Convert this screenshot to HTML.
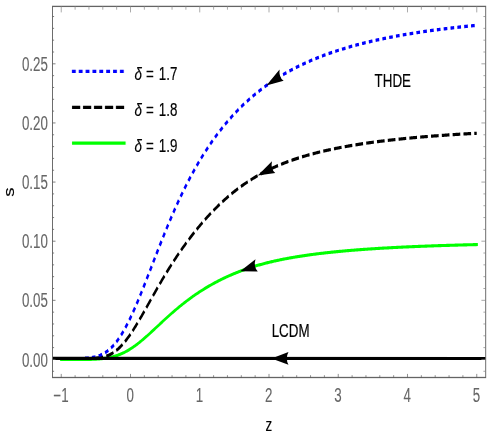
<!DOCTYPE html>
<html>
<head>
<meta charset="utf-8">
<title>s(z) THDE</title>
<style>
html,body{margin:0;padding:0;background:#fff;}
body{width:491px;height:436px;overflow:hidden;font-family:"Liberation Sans",sans-serif;}
svg{display:block;}
text{font-family:"Liberation Sans",sans-serif;}
.t{stroke:#666;stroke-width:0.8;fill:none;}
.tt{stroke:#8c8c8c;stroke-width:0.85;}
.tr{stroke:#808080;}
.tl2{stroke:#5c5c5c;stroke-width:0.9;}
.tb{stroke:#555;stroke-width:0.75;}
.tl{font-size:18.5px;fill:#666;stroke:#666;stroke-width:0.1;}
.lab{font-size:18.5px;fill:#000;stroke:#000;stroke-width:0.2;}
</style>
</head>
<body>
<svg width="491" height="436" viewBox="0 0 680.055 436" preserveAspectRatio="none">
<!-- curves -->
<g fill="none" stroke-linejoin="round">
<path d="M84.83,359.56 L85.99,359.56 L87.14,359.56 L88.29,359.56 L89.45,359.56 L90.60,359.56 L91.75,359.56 L92.91,359.56 L94.06,359.56 L95.21,359.56 L96.37,359.56 L97.52,359.56 L98.67,359.56 L99.83,359.56 L100.98,359.56 L102.13,359.56 L103.29,359.56 L104.44,359.55 L105.59,359.55 L106.75,359.55 L107.90,359.54 L109.05,359.54 L110.21,359.53 L111.36,359.53 L112.51,359.52 L113.67,359.52 L114.82,359.51 L115.97,359.50 L117.13,359.49 L118.28,359.48 L119.43,359.46 L120.59,359.45 L121.74,359.43 L122.89,359.41 L124.05,359.39 L125.20,359.36 L126.35,359.34 L127.51,359.31 L128.66,359.28 L129.81,359.24 L130.96,359.20 L132.12,359.16 L133.27,359.11 L134.42,359.06 L135.58,359.00 L136.73,358.94 L137.88,358.87 L139.04,358.80 L140.19,358.72 L141.34,358.63 L142.50,358.54 L143.65,358.44 L144.80,358.33 L145.96,358.21 L147.11,358.08 L148.26,357.95 L149.42,357.80 L150.57,357.64 L151.72,357.48 L152.88,357.30 L154.03,357.11 L155.18,356.91 L156.34,356.70 L157.49,356.48 L158.64,356.24 L159.80,355.99 L160.95,355.73 L162.10,355.45 L163.26,355.16 L164.41,354.85 L165.56,354.53 L166.72,354.19 L167.87,353.84 L169.02,353.48 L170.18,353.09 L171.33,352.70 L172.48,352.28 L173.64,351.86 L174.79,351.41 L175.94,350.95 L177.10,350.48 L178.25,349.99 L179.40,349.48 L180.56,348.96 L181.71,348.42 L182.86,347.87 L184.02,347.31 L185.17,346.73 L186.32,346.14 L187.48,345.53 L188.63,344.92 L189.78,344.29 L190.94,343.64 L192.09,342.99 L193.24,342.33 L194.40,341.65 L195.55,340.97 L196.70,340.27 L197.85,339.57 L199.01,338.86 L200.16,338.14 L201.31,337.42 L202.47,336.68 L203.62,335.94 L204.77,335.20 L205.93,334.45 L207.08,333.69 L208.23,332.93 L209.39,332.17 L210.54,331.40 L211.69,330.63 L212.85,329.86 L214.00,329.09 L215.15,328.31 L216.31,327.54 L217.46,326.76 L218.61,325.98 L219.77,325.21 L220.92,324.43 L222.07,323.65 L223.23,322.88 L224.38,322.11 L225.53,321.33 L226.69,320.57 L227.84,319.80 L228.99,319.04 L230.15,318.27 L231.30,317.52 L232.45,316.76 L233.61,316.01 L234.76,315.27 L235.91,314.52 L237.07,313.79 L238.22,313.05 L239.37,312.33 L240.53,311.60 L241.68,310.88 L242.83,310.17 L243.99,309.46 L245.14,308.76 L246.29,308.06 L247.45,307.37 L248.60,306.68 L249.75,306.00 L250.91,305.32 L252.06,304.65 L253.21,303.99 L254.37,303.33 L255.52,302.68 L256.67,302.03 L257.83,301.39 L258.98,300.76 L260.13,300.13 L261.29,299.51 L262.44,298.89 L263.59,298.28 L264.74,297.68 L265.90,297.08 L267.05,296.49 L268.20,295.90 L269.36,295.32 L270.51,294.74 L271.66,294.17 L272.82,293.61 L273.97,293.05 L275.12,292.50 L276.28,291.95 L277.43,291.41 L278.58,290.87 L279.74,290.34 L280.89,289.82 L282.04,289.30 L283.20,288.78 L284.35,288.27 L285.50,287.77 L286.66,287.27 L287.81,286.78 L288.96,286.29 L290.12,285.80 L291.27,285.33 L292.42,284.85 L293.58,284.38 L294.73,283.92 L295.88,283.46 L297.04,283.01 L298.19,282.56 L299.34,282.11 L300.50,281.68 L301.65,281.24 L302.80,280.81 L303.96,280.38 L305.11,279.96 L306.26,279.55 L307.42,279.13 L308.57,278.73 L309.72,278.32 L310.88,277.93 L312.03,277.53 L313.18,277.14 L314.34,276.76 L315.49,276.38 L316.64,276.00 L317.80,275.63 L318.95,275.26 L320.10,274.90 L321.26,274.54 L322.41,274.18 L323.56,273.83 L324.72,273.48 L325.87,273.14 L327.02,272.80 L328.18,272.47 L329.33,272.14 L330.48,271.81 L331.63,271.49 L332.79,271.17 L333.94,270.86 L335.09,270.55 L336.25,270.24 L337.40,269.94 L338.55,269.64 L339.71,269.34 L340.86,269.05 L342.01,268.76 L343.17,268.48 L344.32,268.20 L345.47,267.92 L346.63,267.65 L347.78,267.38 L348.93,267.11 L350.09,266.85 L351.24,266.59 L352.39,266.33 L353.55,266.08 L354.70,265.83 L355.85,265.58 L357.01,265.34 L358.16,265.10 L359.31,264.86 L360.47,264.63 L361.62,264.40 L362.77,264.17 L363.93,263.95 L365.08,263.72 L366.23,263.50 L367.39,263.29 L368.54,263.07 L369.69,262.86 L370.85,262.65 L372.00,262.45 L373.15,262.25 L374.31,262.04 L375.46,261.85 L376.61,261.65 L377.77,261.46 L378.92,261.27 L380.07,261.08 L381.23,260.89 L382.38,260.71 L383.53,260.53 L384.69,260.35 L385.84,260.17 L386.99,260.00 L388.15,259.82 L389.30,259.65 L390.45,259.48 L391.61,259.32 L392.76,259.15 L393.91,258.99 L395.07,258.83 L396.22,258.67 L397.37,258.51 L398.52,258.36 L399.68,258.20 L400.83,258.05 L401.98,257.90 L403.14,257.75 L404.29,257.61 L405.44,257.46 L406.60,257.32 L407.75,257.18 L408.90,257.04 L410.06,256.90 L411.21,256.76 L412.36,256.62 L413.52,256.49 L414.67,256.36 L415.82,256.23 L416.98,256.10 L418.13,255.97 L419.28,255.84 L420.44,255.72 L421.59,255.59 L422.74,255.47 L423.90,255.35 L425.05,255.23 L426.20,255.11 L427.36,255.00 L428.51,254.88 L429.66,254.77 L430.82,254.65 L431.97,254.54 L433.12,254.43 L434.28,254.32 L435.43,254.21 L436.58,254.10 L437.74,254.00 L438.89,253.89 L440.04,253.79 L441.20,253.68 L442.35,253.58 L443.50,253.48 L444.66,253.38 L445.81,253.28 L446.96,253.18 L448.12,253.09 L449.27,252.99 L450.42,252.90 L451.58,252.80 L452.73,252.71 L453.88,252.62 L455.04,252.53 L456.19,252.44 L457.34,252.35 L458.50,252.26 L459.65,252.17 L460.80,252.08 L461.96,252.00 L463.11,251.91 L464.26,251.83 L465.41,251.75 L466.57,251.66 L467.72,251.58 L468.87,251.50 L470.03,251.42 L471.18,251.34 L472.33,251.27 L473.49,251.19 L474.64,251.11 L475.79,251.04 L476.95,250.96 L478.10,250.89 L479.25,250.81 L480.41,250.74 L481.56,250.67 L482.71,250.59 L483.87,250.52 L485.02,250.45 L486.17,250.38 L487.33,250.31 L488.48,250.25 L489.63,250.18 L490.79,250.11 L491.94,250.05 L493.09,249.98 L494.25,249.91 L495.40,249.85 L496.55,249.79 L497.71,249.72 L498.86,249.66 L500.01,249.60 L501.17,249.54 L502.32,249.48 L503.47,249.42 L504.63,249.36 L505.78,249.30 L506.93,249.24 L508.09,249.18 L509.24,249.12 L510.39,249.06 L511.55,249.01 L512.70,248.95 L513.85,248.90 L515.01,248.84 L516.16,248.79 L517.31,248.73 L518.47,248.68 L519.62,248.63 L520.77,248.57 L521.93,248.52 L523.08,248.47 L524.23,248.42 L525.39,248.37 L526.54,248.32 L527.69,248.27 L528.85,248.22 L530.00,248.17 L531.15,248.12 L532.30,248.07 L533.46,248.02 L534.61,247.98 L535.76,247.93 L536.92,247.88 L538.07,247.84 L539.22,247.79 L540.38,247.75 L541.53,247.70 L542.68,247.66 L543.84,247.61 L544.99,247.57 L546.14,247.53 L547.30,247.48 L548.45,247.44 L549.60,247.40 L550.76,247.36 L551.91,247.31 L553.06,247.27 L554.22,247.23 L555.37,247.19 L556.52,247.15 L557.68,247.11 L558.83,247.07 L559.98,247.03 L561.14,246.99 L562.29,246.96 L563.44,246.92 L564.60,246.88 L565.75,246.84 L566.90,246.81 L568.06,246.77 L569.21,246.73 L570.36,246.70 L571.52,246.66 L572.67,246.62 L573.82,246.59 L574.98,246.55 L576.13,246.52 L577.28,246.48 L578.44,246.45 L579.59,246.42 L580.74,246.38 L581.90,246.35 L583.05,246.31 L584.20,246.28 L585.36,246.25 L586.51,246.22 L587.66,246.18 L588.82,246.15 L589.97,246.12 L591.12,246.09 L592.28,246.06 L593.43,246.03 L594.58,246.00 L595.74,245.97 L596.89,245.94 L598.04,245.91 L599.19,245.88 L600.35,245.85 L601.50,245.82 L602.65,245.79 L603.81,245.76 L604.96,245.73 L606.11,245.70 L607.27,245.67 L608.42,245.65 L609.57,245.62 L610.73,245.59 L611.88,245.56 L613.03,245.54 L614.19,245.51 L615.34,245.48 L616.49,245.46 L617.65,245.43 L618.80,245.40 L619.95,245.38 L621.11,245.35 L622.26,245.33 L623.41,245.30 L624.57,245.28 L625.72,245.25 L626.87,245.23 L628.03,245.20 L629.18,245.18 L630.33,245.15 L631.49,245.13 L632.64,245.11 L633.79,245.08 L634.95,245.06 L636.10,245.04 L637.25,245.01 L638.41,244.99 L639.56,244.97 L640.71,244.94 L641.87,244.92 L643.02,244.90 L644.17,244.88 L645.33,244.86 L646.48,244.83 L647.63,244.81 L648.79,244.79 L649.94,244.77 L651.09,244.75 L652.25,244.73 L653.40,244.71 L654.55,244.69 L655.71,244.66 L656.86,244.64 L658.01,244.62 L659.17,244.60 L660.32,244.58" stroke="#00ff00" stroke-width="3.1" stroke-linecap="square"/>
<path d="M128.19,358.35 L129.25,358.32 L130.32,358.28 L131.39,358.23 L132.45,358.18 L133.52,358.12 L134.59,358.04 L135.65,357.96 L136.72,357.87 L137.78,357.77 L138.85,357.65 L139.92,357.52 L140.98,357.37 L142.05,357.21 L143.12,357.03 L144.18,356.83 L145.25,356.61 L146.32,356.37 L147.38,356.11 L148.45,355.82 L149.51,355.51 L150.58,355.18 L151.65,354.83 L152.71,354.44 L153.78,354.03 L154.85,353.60 L155.91,353.13 L156.98,352.64 L158.05,352.12 L159.11,351.56 L160.18,350.98 L161.25,350.37 L162.31,349.73 L163.38,349.06 L164.44,348.35 L165.51,347.62 L166.58,346.86 L167.64,346.07 L168.71,345.25 L169.78,344.40 L170.84,343.52 L171.91,342.61 L172.98,341.68 L174.04,340.71 L175.11,339.72 L176.17,338.71 L177.24,337.67 L178.31,336.61 L179.37,335.52 L180.44,334.41 L181.51,333.28 L182.57,332.13 L183.64,330.95 L184.71,329.76 L185.77,328.55 L186.84,327.32 L187.91,326.08 L188.97,324.82 L190.04,323.55 L191.10,322.26 L192.17,320.96 L193.24,319.65 L194.30,318.33 L195.37,317.00 L196.44,315.67 L197.50,314.32 L198.57,312.97 L199.64,311.61 L200.70,310.24 L201.77,308.88 L202.83,307.50 L203.90,306.13 L204.97,304.75 L206.03,303.38 L207.10,302.00 L208.17,300.62 L209.23,299.25 L210.30,297.87 L211.37,296.50 L212.43,295.13 L213.50,293.76 L214.57,292.40 L215.63,291.04 L216.70,289.68 L217.76,288.33 L218.83,286.99 L219.90,285.65 L220.96,284.32 L222.03,282.99 L223.10,281.67 L224.16,280.36 L225.23,279.05 L226.30,277.75 L227.36,276.46 L228.43,275.18 L229.49,273.91 L230.56,272.64 L231.63,271.38 L232.69,270.13 L233.76,268.89 L234.83,267.65 L235.89,266.43 L236.96,265.21 L238.03,264.00 L239.09,262.80 L240.16,261.61 L241.22,260.43 L242.29,259.26 L243.36,258.09 L244.42,256.93 L245.49,255.78 L246.56,254.64 L247.62,253.51 L248.69,252.39 L249.76,251.27 L250.82,250.17 L251.89,249.07 L252.96,247.98 L254.02,246.90 L255.09,245.82 L256.15,244.76 L257.22,243.70 L258.29,242.65 L259.35,241.61 L260.42,240.57 L261.49,239.55 L262.55,238.53 L263.62,237.51 L264.69,236.51 L265.75,235.51 L266.82,234.53 L267.88,233.54 L268.95,232.57 L270.02,231.60 L271.08,230.64 L272.15,229.69 L273.22,228.75 L274.28,227.81 L275.35,226.88 L276.42,225.96 L277.48,225.04 L278.55,224.13 L279.62,223.23 L280.68,222.34 L281.75,221.45 L282.81,220.57 L283.88,219.70 L284.95,218.83 L286.01,217.97 L287.08,217.12 L288.15,216.27 L289.21,215.44 L290.28,214.61 L291.35,213.78 L292.41,212.96 L293.48,212.15 L294.54,211.35 L295.61,210.55 L296.68,209.76 L297.74,208.98 L298.81,208.21 L299.88,207.44 L300.94,206.68 L302.01,205.92 L303.08,205.17 L304.14,204.43 L305.21,203.70 L306.28,202.97 L307.34,202.25 L308.41,201.53 L309.47,200.82 L310.54,200.12 L311.61,199.43 L312.67,198.74 L313.74,198.06 L314.81,197.39 L315.87,196.72 L316.94,196.06 L318.01,195.40 L319.07,194.75 L320.14,194.11 L321.20,193.48 L322.27,192.85 L323.34,192.23 L324.40,191.61 L325.47,191.00 L326.54,190.40 L327.60,189.80 L328.67,189.21 L329.74,188.62 L330.80,188.05 L331.87,187.47 L332.94,186.91 L334.00,186.35 L335.07,185.79 L336.13,185.24 L337.20,184.70 L338.27,184.16 L339.33,183.63 L340.40,183.11 L341.47,182.59 L342.53,182.07 L343.60,181.56 L344.67,181.06 L345.73,180.56 L346.80,180.07 L347.86,179.59 L348.93,179.10 L350.00,178.63 L351.06,178.16 L352.13,177.69 L353.20,177.23 L354.26,176.78 L355.33,176.33 L356.40,175.88 L357.46,175.44 L358.53,175.01 L359.59,174.58 L360.66,174.15 L361.73,173.73 L362.79,173.31 L363.86,172.90 L364.93,172.49 L365.99,172.09 L367.06,171.69 L368.13,171.30 L369.19,170.91 L370.26,170.52 L371.33,170.14 L372.39,169.77 L373.46,169.39 L374.52,169.03 L375.59,168.66 L376.66,168.30 L377.72,167.94 L378.79,167.59 L379.86,167.24 L380.92,166.90 L381.99,166.56 L383.06,166.22 L384.12,165.89 L385.19,165.56 L386.25,165.23 L387.32,164.91 L388.39,164.59 L389.45,164.27 L390.52,163.96 L391.59,163.65 L392.65,163.35 L393.72,163.04 L394.79,162.74 L395.85,162.45 L396.92,162.16 L397.99,161.87 L399.05,161.58 L400.12,161.29 L401.18,161.01 L402.25,160.74 L403.32,160.46 L404.38,160.19 L405.45,159.92 L406.52,159.65 L407.58,159.39 L408.65,159.13 L409.72,158.87 L410.78,158.62 L411.85,158.36 L412.91,158.11 L413.98,157.86 L415.05,157.62 L416.11,157.38 L417.18,157.14 L418.25,156.90 L419.31,156.66 L420.38,156.43 L421.45,156.20 L422.51,155.97 L423.58,155.74 L424.65,155.52 L425.71,155.30 L426.78,155.08 L427.84,154.86 L428.91,154.65 L429.98,154.43 L431.04,154.22 L432.11,154.01 L433.18,153.81 L434.24,153.60 L435.31,153.40 L436.38,153.20 L437.44,153.00 L438.51,152.80 L439.57,152.60 L440.64,152.41 L441.71,152.22 L442.77,152.03 L443.84,151.84 L444.91,151.65 L445.97,151.47 L447.04,151.29 L448.11,151.11 L449.17,150.93 L450.24,150.75 L451.30,150.57 L452.37,150.40 L453.44,150.22 L454.50,150.05 L455.57,149.88 L456.64,149.71 L457.70,149.55 L458.77,149.38 L459.84,149.22 L460.90,149.06 L461.97,148.90 L463.04,148.74 L464.10,148.58 L465.17,148.42 L466.23,148.27 L467.30,148.11 L468.37,147.96 L469.43,147.81 L470.50,147.66 L471.57,147.51 L472.63,147.36 L473.70,147.22 L474.77,147.07 L475.83,146.93 L476.90,146.78 L477.96,146.64 L479.03,146.50 L480.10,146.37 L481.16,146.23 L482.23,146.09 L483.30,145.96 L484.36,145.82 L485.43,145.69 L486.50,145.56 L487.56,145.43 L488.63,145.30 L489.70,145.17 L490.76,145.04 L491.83,144.91 L492.89,144.79 L493.96,144.66 L495.03,144.54 L496.09,144.42 L497.16,144.30 L498.23,144.18 L499.29,144.06 L500.36,143.94 L501.43,143.82 L502.49,143.71 L503.56,143.59 L504.62,143.47 L505.69,143.36 L506.76,143.25 L507.82,143.14 L508.89,143.03 L509.96,142.92 L511.02,142.81 L512.09,142.70 L513.16,142.59 L514.22,142.48 L515.29,142.38 L516.36,142.27 L517.42,142.17 L518.49,142.06 L519.55,141.96 L520.62,141.86 L521.69,141.76 L522.75,141.66 L523.82,141.56 L524.89,141.46 L525.95,141.36 L527.02,141.27 L528.09,141.17 L529.15,141.07 L530.22,140.98 L531.28,140.88 L532.35,140.79 L533.42,140.70 L534.48,140.61 L535.55,140.51 L536.62,140.42 L537.68,140.33 L538.75,140.24 L539.82,140.16 L540.88,140.07 L541.95,139.98 L543.02,139.89 L544.08,139.81 L545.15,139.72 L546.21,139.64 L547.28,139.55 L548.35,139.47 L549.41,139.39 L550.48,139.30 L551.55,139.22 L552.61,139.14 L553.68,139.06 L554.75,138.98 L555.81,138.90 L556.88,138.82 L557.94,138.74 L559.01,138.66 L560.08,138.59 L561.14,138.51 L562.21,138.43 L563.28,138.36 L564.34,138.28 L565.41,138.21 L566.48,138.14 L567.54,138.06 L568.61,137.99 L569.67,137.92 L570.74,137.84 L571.81,137.77 L572.87,137.70 L573.94,137.63 L575.01,137.56 L576.07,137.49 L577.14,137.42 L578.21,137.36 L579.27,137.29 L580.34,137.22 L581.41,137.15 L582.47,137.09 L583.54,137.02 L584.60,136.95 L585.67,136.89 L586.74,136.82 L587.80,136.76 L588.87,136.70 L589.94,136.63 L591.00,136.57 L592.07,136.51 L593.14,136.44 L594.20,136.38 L595.27,136.32 L596.33,136.26 L597.40,136.20 L598.47,136.14 L599.53,136.08 L600.60,136.02 L601.67,135.96 L602.73,135.90 L603.80,135.84 L604.87,135.79 L605.93,135.73 L607.00,135.67 L608.07,135.62 L609.13,135.56 L610.20,135.50 L611.26,135.45 L612.33,135.39 L613.40,135.34 L614.46,135.28 L615.53,135.23 L616.60,135.17 L617.66,135.12 L618.73,135.07 L619.80,135.02 L620.86,134.96 L621.93,134.91 L622.99,134.86 L624.06,134.81 L625.13,134.76 L626.19,134.71 L627.26,134.66 L628.33,134.61 L629.39,134.56 L630.46,134.51 L631.53,134.46 L632.59,134.41 L633.66,134.36 L634.73,134.31 L635.79,134.26 L636.86,134.22 L637.92,134.17 L638.99,134.12 L640.06,134.07 L641.12,134.03 L642.19,133.98 L643.26,133.94 L644.32,133.89 L645.39,133.84 L646.46,133.80 L647.52,133.75 L648.59,133.71 L649.65,133.67 L650.72,133.62 L651.79,133.58 L652.85,133.53 L653.92,133.49 L654.99,133.45 L656.05,133.41 L657.12,133.36 L658.19,133.32 L659.25,133.28 L660.32,133.24" stroke="#000" stroke-width="3.2" stroke-dasharray="10.6 4.4" stroke-dashoffset="10.82"/>
<path d="M114.76,358.35 L115.85,358.32 L116.95,358.28 L118.04,358.24 L119.13,358.19 L120.23,358.14 L121.32,358.07 L122.41,358.00 L123.51,357.92 L124.60,357.83 L125.69,357.73 L126.79,357.61 L127.88,357.48 L128.97,357.34 L130.07,357.18 L131.16,357.01 L132.25,356.82 L133.35,356.61 L134.44,356.38 L135.53,356.14 L136.63,355.87 L137.72,355.57 L138.81,355.26 L139.91,354.91 L141.00,354.54 L142.09,354.15 L143.18,353.73 L144.28,353.27 L145.37,352.79 L146.46,352.27 L147.56,351.73 L148.65,351.15 L149.74,350.53 L150.84,349.88 L151.93,349.20 L153.02,348.48 L154.12,347.72 L155.21,346.93 L156.30,346.10 L157.40,345.23 L158.49,344.32 L159.58,343.37 L160.68,342.39 L161.77,341.36 L162.86,340.30 L163.96,339.20 L165.05,338.05 L166.14,336.88 L167.24,335.66 L168.33,334.40 L169.42,333.11 L170.52,331.78 L171.61,330.41 L172.70,329.01 L173.80,327.57 L174.89,326.10 L175.98,324.59 L177.08,323.05 L178.17,321.48 L179.26,319.87 L180.36,318.24 L181.45,316.58 L182.54,314.88 L183.64,313.16 L184.73,311.42 L185.82,309.65 L186.92,307.85 L188.01,306.04 L189.10,304.20 L190.20,302.34 L191.29,300.46 L192.38,298.56 L193.48,296.64 L194.57,294.71 L195.66,292.76 L196.76,290.80 L197.85,288.83 L198.94,286.85 L200.04,284.85 L201.13,282.85 L202.22,280.84 L203.32,278.82 L204.41,276.79 L205.50,274.76 L206.60,272.73 L207.69,270.69 L208.78,268.66 L209.88,266.62 L210.97,264.58 L212.06,262.54 L213.16,260.50 L214.25,258.47 L215.34,256.43 L216.44,254.41 L217.53,252.38 L218.62,250.37 L219.72,248.36 L220.81,246.35 L221.90,244.35 L223.00,242.37 L224.09,240.38 L225.18,238.41 L226.28,236.45 L227.37,234.50 L228.46,232.56 L229.56,230.63 L230.65,228.71 L231.74,226.80 L232.84,224.90 L233.93,223.02 L235.02,221.15 L236.12,219.29 L237.21,217.45 L238.30,215.62 L239.40,213.80 L240.49,212.00 L241.58,210.21 L242.68,208.43 L243.77,206.67 L244.86,204.92 L245.96,203.19 L247.05,201.48 L248.14,199.77 L249.24,198.08 L250.33,196.41 L251.42,194.75 L252.52,193.11 L253.61,191.48 L254.70,189.87 L255.80,188.27 L256.89,186.68 L257.98,185.11 L259.08,183.56 L260.17,182.02 L261.26,180.49 L262.36,178.98 L263.45,177.49 L264.54,176.01 L265.64,174.54 L266.73,173.09 L267.82,171.65 L268.92,170.22 L270.01,168.81 L271.10,167.42 L272.20,166.03 L273.29,164.67 L274.38,163.31 L275.47,161.97 L276.57,160.64 L277.66,159.33 L278.75,158.03 L279.85,156.74 L280.94,155.46 L282.03,154.20 L283.13,152.95 L284.22,151.71 L285.31,150.49 L286.41,149.28 L287.50,148.08 L288.59,146.89 L289.69,145.71 L290.78,144.55 L291.87,143.40 L292.97,142.26 L294.06,141.13 L295.15,140.01 L296.25,138.91 L297.34,137.81 L298.43,136.73 L299.53,135.66 L300.62,134.59 L301.71,133.54 L302.81,132.50 L303.90,131.47 L304.99,130.45 L306.09,129.44 L307.18,128.45 L308.27,127.46 L309.37,126.48 L310.46,125.51 L311.55,124.55 L312.65,123.60 L313.74,122.66 L314.83,121.73 L315.93,120.81 L317.02,119.90 L318.11,118.99 L319.21,118.10 L320.30,117.22 L321.39,116.34 L322.49,115.47 L323.58,114.62 L324.67,113.77 L325.77,112.92 L326.86,112.09 L327.95,111.27 L329.05,110.45 L330.14,109.64 L331.23,108.84 L332.33,108.05 L333.42,107.26 L334.51,106.49 L335.61,105.72 L336.70,104.96 L337.79,104.20 L338.89,103.46 L339.98,102.72 L341.07,101.98 L342.17,101.26 L343.26,100.54 L344.35,99.83 L345.45,99.13 L346.54,98.43 L347.63,97.74 L348.73,97.06 L349.82,96.38 L350.91,95.71 L352.01,95.05 L353.10,94.39 L354.19,93.74 L355.29,93.10 L356.38,92.46 L357.47,91.83 L358.57,91.20 L359.66,90.58 L360.75,89.97 L361.85,89.36 L362.94,88.75 L364.03,88.16 L365.13,87.57 L366.22,86.98 L367.31,86.40 L368.41,85.83 L369.50,85.26 L370.59,84.70 L371.69,84.14 L372.78,83.59 L373.87,83.04 L374.97,82.50 L376.06,81.96 L377.15,81.43 L378.25,80.90 L379.34,80.38 L380.43,79.86 L381.53,79.35 L382.62,78.84 L383.71,78.34 L384.81,77.84 L385.90,77.35 L386.99,76.86 L388.09,76.37 L389.18,75.89 L390.27,75.42 L391.37,74.95 L392.46,74.48 L393.55,74.02 L394.65,73.56 L395.74,73.11 L396.83,72.66 L397.93,72.21 L399.02,71.77 L400.11,71.33 L401.21,70.90 L402.30,70.47 L403.39,70.04 L404.49,69.62 L405.58,69.20 L406.67,68.79 L407.76,68.38 L408.86,67.97 L409.95,67.56 L411.04,67.17 L412.14,66.77 L413.23,66.38 L414.32,65.99 L415.42,65.60 L416.51,65.22 L417.60,64.84 L418.70,64.46 L419.79,64.09 L420.88,63.72 L421.98,63.36 L423.07,62.99 L424.16,62.63 L425.26,62.28 L426.35,61.92 L427.44,61.57 L428.54,61.23 L429.63,60.88 L430.72,60.54 L431.82,60.20 L432.91,59.87 L434.00,59.54 L435.10,59.21 L436.19,58.88 L437.28,58.56 L438.38,58.23 L439.47,57.92 L440.56,57.60 L441.66,57.29 L442.75,56.98 L443.84,56.67 L444.94,56.36 L446.03,56.06 L447.12,55.76 L448.22,55.46 L449.31,55.17 L450.40,54.88 L451.50,54.59 L452.59,54.30 L453.68,54.01 L454.78,53.73 L455.87,53.45 L456.96,53.17 L458.06,52.89 L459.15,52.62 L460.24,52.35 L461.34,52.08 L462.43,51.81 L463.52,51.55 L464.62,51.28 L465.71,51.02 L466.80,50.76 L467.90,50.51 L468.99,50.25 L470.08,50.00 L471.18,49.75 L472.27,49.50 L473.36,49.26 L474.46,49.01 L475.55,48.77 L476.64,48.53 L477.74,48.29 L478.83,48.05 L479.92,47.82 L481.02,47.59 L482.11,47.36 L483.20,47.13 L484.30,46.90 L485.39,46.67 L486.48,46.45 L487.58,46.23 L488.67,46.01 L489.76,45.79 L490.86,45.57 L491.95,45.36 L493.04,45.14 L494.14,44.93 L495.23,44.72 L496.32,44.51 L497.42,44.30 L498.51,44.10 L499.60,43.89 L500.70,43.69 L501.79,43.49 L502.88,43.29 L503.98,43.09 L505.07,42.90 L506.16,42.70 L507.26,42.51 L508.35,42.32 L509.44,42.13 L510.54,41.94 L511.63,41.75 L512.72,41.56 L513.82,41.38 L514.91,41.20 L516.00,41.01 L517.10,40.83 L518.19,40.65 L519.28,40.48 L520.38,40.30 L521.47,40.12 L522.56,39.95 L523.66,39.78 L524.75,39.61 L525.84,39.44 L526.94,39.27 L528.03,39.10 L529.12,38.93 L530.22,38.77 L531.31,38.60 L532.40,38.44 L533.50,38.28 L534.59,38.12 L535.68,37.96 L536.78,37.80 L537.87,37.64 L538.96,37.48 L540.05,37.33 L541.15,37.18 L542.24,37.02 L543.33,36.87 L544.43,36.72 L545.52,36.57 L546.61,36.42 L547.71,36.27 L548.80,36.13 L549.89,35.98 L550.99,35.84 L552.08,35.69 L553.17,35.55 L554.27,35.41 L555.36,35.27 L556.45,35.13 L557.55,34.99 L558.64,34.85 L559.73,34.72 L560.83,34.58 L561.92,34.45 L563.01,34.31 L564.11,34.18 L565.20,34.05 L566.29,33.92 L567.39,33.79 L568.48,33.66 L569.57,33.53 L570.67,33.40 L571.76,33.28 L572.85,33.15 L573.95,33.02 L575.04,32.90 L576.13,32.78 L577.23,32.65 L578.32,32.53 L579.41,32.41 L580.51,32.29 L581.60,32.17 L582.69,32.05 L583.79,31.94 L584.88,31.82 L585.97,31.70 L587.07,31.59 L588.16,31.47 L589.25,31.36 L590.35,31.25 L591.44,31.13 L592.53,31.02 L593.63,30.91 L594.72,30.80 L595.81,30.69 L596.91,30.58 L598.00,30.47 L599.09,30.37 L600.19,30.26 L601.28,30.15 L602.37,30.05 L603.47,29.94 L604.56,29.84 L605.65,29.74 L606.75,29.63 L607.84,29.53 L608.93,29.43 L610.03,29.33 L611.12,29.23 L612.21,29.13 L613.31,29.03 L614.40,28.93 L615.49,28.84 L616.59,28.74 L617.68,28.64 L618.77,28.55 L619.87,28.45 L620.96,28.36 L622.05,28.26 L623.15,28.17 L624.24,28.08 L625.33,27.99 L626.43,27.89 L627.52,27.80 L628.61,27.71 L629.71,27.62 L630.80,27.53 L631.89,27.44 L632.99,27.36 L634.08,27.27 L635.17,27.18 L636.27,27.09 L637.36,27.01 L638.45,26.92 L639.55,26.84 L640.64,26.75 L641.73,26.67 L642.83,26.58 L643.92,26.50 L645.01,26.42 L646.11,26.34 L647.20,26.26 L648.29,26.17 L649.39,26.09 L650.48,26.01 L651.57,25.93 L652.67,25.85 L653.76,25.78 L654.85,25.70 L655.95,25.62 L657.04,25.54 L658.13,25.47 L659.23,25.39 L660.32,25.31" stroke="#0000ff" stroke-width="3.3" stroke-dasharray="5.1 4.4" stroke-dashoffset="6.48"/>
<line x1="72.71" y1="358.4" x2="672.71" y2="358.45" stroke="#000" stroke-width="3.15"/>
</g>
<!-- arrowheads -->
<g fill="#000" stroke="none">
<path d="M368.98,85.53 L392.88,80.86 Q385.83,77.20 387.21,69.38 Z"/>
<path d="M357.06,175.61 L381.29,173.07 Q374.59,168.81 376.66,161.14 Z"/>
<path d="M332.69,271.20 L357.04,271.53 Q350.89,266.51 353.85,259.14 Z"/>
<path d="M376.04,358.40 L399.54,364.80 Q394.84,358.40 399.54,352.00 Z"/>
</g>
<!-- frame -->
<rect x="72.71" y="6.4" width="600.00" height="371.1" fill="none" stroke="#646464" stroke-width="1.3"/>
<line class="t tb" x1="84.83" y1="377.50" x2="84.83" y2="373.90"/>
<line class="t tt" x1="84.83" y1="6.40" x2="84.83" y2="12.40"/>
<line class="t tb" x1="104.02" y1="377.50" x2="104.02" y2="375.20"/>
<line class="t tt" x1="104.02" y1="6.40" x2="104.02" y2="9.70"/>
<line class="t tb" x1="123.20" y1="377.50" x2="123.20" y2="375.20"/>
<line class="t tt" x1="123.20" y1="6.40" x2="123.20" y2="9.70"/>
<line class="t tb" x1="142.38" y1="377.50" x2="142.38" y2="375.20"/>
<line class="t tt" x1="142.38" y1="6.40" x2="142.38" y2="9.70"/>
<line class="t tb" x1="161.57" y1="377.50" x2="161.57" y2="375.20"/>
<line class="t tt" x1="161.57" y1="6.40" x2="161.57" y2="9.70"/>
<line class="t tb" x1="180.75" y1="377.50" x2="180.75" y2="373.90"/>
<line class="t tt" x1="180.75" y1="6.40" x2="180.75" y2="12.40"/>
<line class="t tb" x1="199.93" y1="377.50" x2="199.93" y2="375.20"/>
<line class="t tt" x1="199.93" y1="6.40" x2="199.93" y2="9.70"/>
<line class="t tb" x1="219.11" y1="377.50" x2="219.11" y2="375.20"/>
<line class="t tt" x1="219.11" y1="6.40" x2="219.11" y2="9.70"/>
<line class="t tb" x1="238.30" y1="377.50" x2="238.30" y2="375.20"/>
<line class="t tt" x1="238.30" y1="6.40" x2="238.30" y2="9.70"/>
<line class="t tb" x1="257.48" y1="377.50" x2="257.48" y2="375.20"/>
<line class="t tt" x1="257.48" y1="6.40" x2="257.48" y2="9.70"/>
<line class="t tb" x1="276.66" y1="377.50" x2="276.66" y2="373.90"/>
<line class="t tt" x1="276.66" y1="6.40" x2="276.66" y2="12.40"/>
<line class="t tb" x1="295.84" y1="377.50" x2="295.84" y2="375.20"/>
<line class="t tt" x1="295.84" y1="6.40" x2="295.84" y2="9.70"/>
<line class="t tb" x1="315.03" y1="377.50" x2="315.03" y2="375.20"/>
<line class="t tt" x1="315.03" y1="6.40" x2="315.03" y2="9.70"/>
<line class="t tb" x1="334.21" y1="377.50" x2="334.21" y2="375.20"/>
<line class="t tt" x1="334.21" y1="6.40" x2="334.21" y2="9.70"/>
<line class="t tb" x1="353.39" y1="377.50" x2="353.39" y2="375.20"/>
<line class="t tt" x1="353.39" y1="6.40" x2="353.39" y2="9.70"/>
<line class="t tb" x1="372.58" y1="377.50" x2="372.58" y2="373.90"/>
<line class="t tt" x1="372.58" y1="6.40" x2="372.58" y2="12.40"/>
<line class="t tb" x1="391.76" y1="377.50" x2="391.76" y2="375.20"/>
<line class="t tt" x1="391.76" y1="6.40" x2="391.76" y2="9.70"/>
<line class="t tb" x1="410.94" y1="377.50" x2="410.94" y2="375.20"/>
<line class="t tt" x1="410.94" y1="6.40" x2="410.94" y2="9.70"/>
<line class="t tb" x1="430.12" y1="377.50" x2="430.12" y2="375.20"/>
<line class="t tt" x1="430.12" y1="6.40" x2="430.12" y2="9.70"/>
<line class="t tb" x1="449.31" y1="377.50" x2="449.31" y2="375.20"/>
<line class="t tt" x1="449.31" y1="6.40" x2="449.31" y2="9.70"/>
<line class="t tb" x1="468.49" y1="377.50" x2="468.49" y2="373.90"/>
<line class="t tt" x1="468.49" y1="6.40" x2="468.49" y2="12.40"/>
<line class="t tb" x1="487.67" y1="377.50" x2="487.67" y2="375.20"/>
<line class="t tt" x1="487.67" y1="6.40" x2="487.67" y2="9.70"/>
<line class="t tb" x1="506.86" y1="377.50" x2="506.86" y2="375.20"/>
<line class="t tt" x1="506.86" y1="6.40" x2="506.86" y2="9.70"/>
<line class="t tb" x1="526.04" y1="377.50" x2="526.04" y2="375.20"/>
<line class="t tt" x1="526.04" y1="6.40" x2="526.04" y2="9.70"/>
<line class="t tb" x1="545.22" y1="377.50" x2="545.22" y2="375.20"/>
<line class="t tt" x1="545.22" y1="6.40" x2="545.22" y2="9.70"/>
<line class="t tb" x1="564.40" y1="377.50" x2="564.40" y2="373.90"/>
<line class="t tt" x1="564.40" y1="6.40" x2="564.40" y2="12.40"/>
<line class="t tb" x1="583.59" y1="377.50" x2="583.59" y2="375.20"/>
<line class="t tt" x1="583.59" y1="6.40" x2="583.59" y2="9.70"/>
<line class="t tb" x1="602.77" y1="377.50" x2="602.77" y2="375.20"/>
<line class="t tt" x1="602.77" y1="6.40" x2="602.77" y2="9.70"/>
<line class="t tb" x1="621.95" y1="377.50" x2="621.95" y2="375.20"/>
<line class="t tt" x1="621.95" y1="6.40" x2="621.95" y2="9.70"/>
<line class="t tb" x1="641.14" y1="377.50" x2="641.14" y2="375.20"/>
<line class="t tt" x1="641.14" y1="6.40" x2="641.14" y2="9.70"/>
<line class="t tb" x1="660.32" y1="377.50" x2="660.32" y2="373.90"/>
<line class="t tt" x1="660.32" y1="6.40" x2="660.32" y2="12.40"/>
<line class="t tl2" x1="72.71" y1="371.27" x2="74.93" y2="371.27"/>
<line class="t tr" x1="672.71" y1="371.27" x2="669.53" y2="371.27"/>
<line class="t tl2" x1="72.71" y1="359.45" x2="76.87" y2="359.45"/>
<line class="t tr" x1="672.71" y1="359.45" x2="666.76" y2="359.45"/>
<line class="t tl2" x1="72.71" y1="347.62" x2="74.93" y2="347.62"/>
<line class="t tr" x1="672.71" y1="347.62" x2="669.53" y2="347.62"/>
<line class="t tl2" x1="72.71" y1="335.80" x2="74.93" y2="335.80"/>
<line class="t tr" x1="672.71" y1="335.80" x2="669.53" y2="335.80"/>
<line class="t tl2" x1="72.71" y1="323.97" x2="74.93" y2="323.97"/>
<line class="t tr" x1="672.71" y1="323.97" x2="669.53" y2="323.97"/>
<line class="t tl2" x1="72.71" y1="312.15" x2="74.93" y2="312.15"/>
<line class="t tr" x1="672.71" y1="312.15" x2="669.53" y2="312.15"/>
<line class="t tl2" x1="72.71" y1="300.32" x2="76.87" y2="300.32"/>
<line class="t tr" x1="672.71" y1="300.32" x2="666.76" y2="300.32"/>
<line class="t tl2" x1="72.71" y1="288.50" x2="74.93" y2="288.50"/>
<line class="t tr" x1="672.71" y1="288.50" x2="669.53" y2="288.50"/>
<line class="t tl2" x1="72.71" y1="276.67" x2="74.93" y2="276.67"/>
<line class="t tr" x1="672.71" y1="276.67" x2="669.53" y2="276.67"/>
<line class="t tl2" x1="72.71" y1="264.85" x2="74.93" y2="264.85"/>
<line class="t tr" x1="672.71" y1="264.85" x2="669.53" y2="264.85"/>
<line class="t tl2" x1="72.71" y1="253.02" x2="74.93" y2="253.02"/>
<line class="t tr" x1="672.71" y1="253.02" x2="669.53" y2="253.02"/>
<line class="t tl2" x1="72.71" y1="241.20" x2="76.87" y2="241.20"/>
<line class="t tr" x1="672.71" y1="241.20" x2="666.76" y2="241.20"/>
<line class="t tl2" x1="72.71" y1="229.38" x2="74.93" y2="229.38"/>
<line class="t tr" x1="672.71" y1="229.38" x2="669.53" y2="229.38"/>
<line class="t tl2" x1="72.71" y1="217.55" x2="74.93" y2="217.55"/>
<line class="t tr" x1="672.71" y1="217.55" x2="669.53" y2="217.55"/>
<line class="t tl2" x1="72.71" y1="205.72" x2="74.93" y2="205.72"/>
<line class="t tr" x1="672.71" y1="205.72" x2="669.53" y2="205.72"/>
<line class="t tl2" x1="72.71" y1="193.90" x2="74.93" y2="193.90"/>
<line class="t tr" x1="672.71" y1="193.90" x2="669.53" y2="193.90"/>
<line class="t tl2" x1="72.71" y1="182.07" x2="76.87" y2="182.07"/>
<line class="t tr" x1="672.71" y1="182.07" x2="666.76" y2="182.07"/>
<line class="t tl2" x1="72.71" y1="170.25" x2="74.93" y2="170.25"/>
<line class="t tr" x1="672.71" y1="170.25" x2="669.53" y2="170.25"/>
<line class="t tl2" x1="72.71" y1="158.42" x2="74.93" y2="158.42"/>
<line class="t tr" x1="672.71" y1="158.42" x2="669.53" y2="158.42"/>
<line class="t tl2" x1="72.71" y1="146.60" x2="74.93" y2="146.60"/>
<line class="t tr" x1="672.71" y1="146.60" x2="669.53" y2="146.60"/>
<line class="t tl2" x1="72.71" y1="134.77" x2="74.93" y2="134.77"/>
<line class="t tr" x1="672.71" y1="134.77" x2="669.53" y2="134.77"/>
<line class="t tl2" x1="72.71" y1="122.95" x2="76.87" y2="122.95"/>
<line class="t tr" x1="672.71" y1="122.95" x2="666.76" y2="122.95"/>
<line class="t tl2" x1="72.71" y1="111.12" x2="74.93" y2="111.12"/>
<line class="t tr" x1="672.71" y1="111.12" x2="669.53" y2="111.12"/>
<line class="t tl2" x1="72.71" y1="99.30" x2="74.93" y2="99.30"/>
<line class="t tr" x1="672.71" y1="99.30" x2="669.53" y2="99.30"/>
<line class="t tl2" x1="72.71" y1="87.47" x2="74.93" y2="87.47"/>
<line class="t tr" x1="672.71" y1="87.47" x2="669.53" y2="87.47"/>
<line class="t tl2" x1="72.71" y1="75.65" x2="74.93" y2="75.65"/>
<line class="t tr" x1="672.71" y1="75.65" x2="669.53" y2="75.65"/>
<line class="t tl2" x1="72.71" y1="63.82" x2="76.87" y2="63.82"/>
<line class="t tr" x1="672.71" y1="63.82" x2="666.76" y2="63.82"/>
<line class="t tl2" x1="72.71" y1="52.00" x2="74.93" y2="52.00"/>
<line class="t tr" x1="672.71" y1="52.00" x2="669.53" y2="52.00"/>
<line class="t tl2" x1="72.71" y1="40.17" x2="74.93" y2="40.17"/>
<line class="t tr" x1="672.71" y1="40.17" x2="669.53" y2="40.17"/>
<line class="t tl2" x1="72.71" y1="28.35" x2="74.93" y2="28.35"/>
<line class="t tr" x1="672.71" y1="28.35" x2="669.53" y2="28.35"/>
<line class="t tl2" x1="72.71" y1="16.53" x2="74.93" y2="16.53"/>
<line class="t tr" x1="672.71" y1="16.53" x2="669.53" y2="16.53"/>
<g opacity="0.999">
<text class="tl" transform="translate(84.42,401.7) scale(1,1.07)" text-anchor="middle">−1</text>
<text class="tl" transform="translate(180.33,401.7) scale(1,1.07)" text-anchor="middle">0</text>
<text class="tl" transform="translate(276.25,401.7) scale(1,1.07)" text-anchor="middle">1</text>
<text class="tl" transform="translate(372.16,401.7) scale(1,1.07)" text-anchor="middle">2</text>
<text class="tl" transform="translate(468.07,401.7) scale(1,1.07)" text-anchor="middle">3</text>
<text class="tl" transform="translate(563.99,401.7) scale(1,1.07)" text-anchor="middle">4</text>
<text class="tl" transform="translate(659.90,401.7) scale(1,1.07)" text-anchor="middle">5</text>
<text class="tl" transform="translate(66.34,366.55) scale(1,1.07)" text-anchor="end">0.00</text>
<text class="tl" transform="translate(66.34,307.43) scale(1,1.07)" text-anchor="end">0.05</text>
<text class="tl" transform="translate(66.34,248.30) scale(1,1.07)" text-anchor="end">0.10</text>
<text class="tl" transform="translate(66.34,189.17) scale(1,1.07)" text-anchor="end">0.15</text>
<text class="tl" transform="translate(66.34,130.05) scale(1,1.07)" text-anchor="end">0.20</text>
<text class="tl" transform="translate(66.34,70.92) scale(1,1.07)" text-anchor="end">0.25</text>
<!-- axis labels -->
<text class="lab" x="372.30" y="431.2" text-anchor="middle">z</text>
<text class="lab" transform="translate(18.98,192.2) rotate(-90) scale(1,1.15)" text-anchor="middle">s</text>
<!-- annotations -->
<text class="lab" x="518.84" y="87.1">THDE</text>
<text class="lab" x="376.32" y="336.7">LCDM</text>
<!-- legend text -->
<g class="lab">
<text y="79.8"><tspan x="186.43" font-style="italic">&#948;</tspan><tspan x="202.22">=</tspan><tspan x="219.94">1.7</tspan></text>
<text y="115.8"><tspan x="186.43" font-style="italic">&#948;</tspan><tspan x="202.22">=</tspan><tspan x="219.94">1.8</tspan></text>
<text y="151.8"><tspan x="186.43" font-style="italic">&#948;</tspan><tspan x="202.22">=</tspan><tspan x="219.94">1.9</tspan></text>
</g>
</g>
<!-- legend lines -->
<g fill="none">
<line x1="99.58" y1="71.3" x2="171.88" y2="71.3" stroke="#0000ff" stroke-width="3.3" stroke-dasharray="5.3 4.2"/>
<line x1="99.72" y1="107.3" x2="172.44" y2="107.3" stroke="#000" stroke-width="3.2" stroke-dasharray="11.4 3.8"/>
<line x1="99.72" y1="143.2" x2="173.96" y2="143.2" stroke="#00ff00" stroke-width="3.3"/>
</g>
</svg>
</body>
</html>
